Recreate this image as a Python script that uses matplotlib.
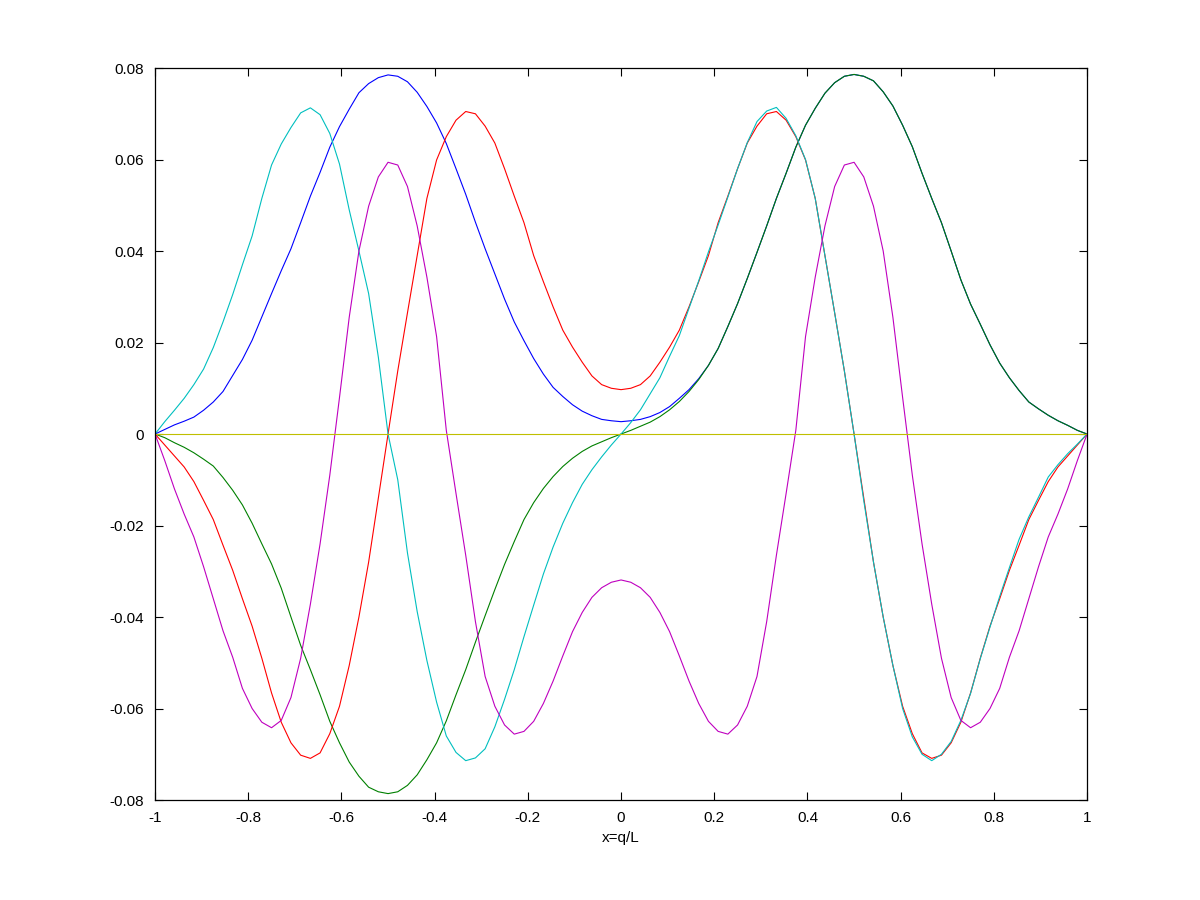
import numpy as np
import matplotlib
matplotlib.use('Agg')
import matplotlib.pyplot as plt
from matplotlib.ticker import FuncFormatter

plt.rcParams['font.family'] = ['Liberation Sans', 'DejaVu Sans']
plt.rcParams['axes.unicode_minus'] = False

# sample grid, step 1/48 on [-1, 0]
x_left = np.linspace(-1, 0, 49)

# values, left half (x = -1 .. 0)
blue_left = [0, 0.0010, 0.0020, 0.0028, 0.0037, 0.0052, 0.0070, 0.0093, 0.0128,
             0.0163, 0.0205, 0.0256, 0.0307, 0.0357, 0.0405, 0.0462, 0.0520,
             0.0572, 0.0627, 0.0672, 0.0710, 0.0746, 0.0766, 0.0779, 0.0785,
             0.0782, 0.0770, 0.0747, 0.0716, 0.0680, 0.0635, 0.0580, 0.0524,
             0.0463, 0.0405, 0.0350, 0.0295, 0.0245, 0.0204, 0.0165, 0.0131,
             0.0102, 0.0082, 0.0064, 0.0050, 0.0040, 0.0032, 0.0029, 0.0027]
# blue right half (x = 1/48 .. 1): near zero at first, then lies on green
blue_right = [0.0029, 0.0032, 0.0038, 0.0047, 0.0060, 0.0078, 0.0097, 0.0121,
              0.0150, 0.0187, 0.0235, 0.0285, 0.0340, 0.0397, 0.0455, 0.0515,
              0.0570, 0.0627, 0.0675, 0.0712, 0.0745, 0.0768, 0.0782, 0.0786,
              0.0782, 0.0772, 0.0748, 0.0717, 0.0675, 0.0628, 0.0570, 0.0515,
              0.0462, 0.0400, 0.0337, 0.0284, 0.0240, 0.0195, 0.0155, 0.0123,
              0.0095, 0.0070, 0.0055, 0.0041, 0.0029, 0.0019, 0.0008, 0]

green_left = [0, -0.0008, -0.0019, -0.0029, -0.0041, -0.0055, -0.0070, -0.0095,
              -0.0123, -0.0155, -0.0195, -0.0240, -0.0284, -0.0337, -0.0400,
              -0.0462, -0.0515, -0.0570, -0.0628, -0.0675, -0.0717, -0.0748,
              -0.0772, -0.0782, -0.0786, -0.0782, -0.0768, -0.0745, -0.0712,
              -0.0675, -0.0627, -0.0570, -0.0515, -0.0455, -0.0397, -0.0340,
              -0.0285, -0.0235, -0.0187, -0.0150, -0.0119, -0.0093, -0.0071,
              -0.0053, -0.0038, -0.0026, -0.0017, -0.0008, 0]

red_left = [0, -0.0024, -0.0048, -0.0072, -0.0104, -0.0145, -0.0187, -0.0243,
            -0.0298, -0.0360, -0.0420, -0.0490, -0.0566, -0.0630, -0.0675,
            -0.0702, -0.0709, -0.0697, -0.0655, -0.0595, -0.0506, -0.0400,
            -0.0280, -0.0140, 0, 0.0138, 0.0265, 0.0390, 0.0515, 0.0599, 0.0650,
            0.0686, 0.0705, 0.0700, 0.0673, 0.0636, 0.0580, 0.0520, 0.0462,
            0.0390, 0.0333, 0.0278, 0.0227, 0.0190, 0.0157, 0.0127, 0.0108,
            0.0100, 0.0097]

cyan_left = [0, 0.0027, 0.0052, 0.0078, 0.0108, 0.0142, 0.0189, 0.0245, 0.0305,
             0.0370, 0.0433, 0.0515, 0.0588, 0.0634, 0.0670, 0.0702, 0.0713,
             0.0698, 0.0657, 0.0590, 0.0490, 0.0400, 0.0307, 0.0168, 0,
             -0.0100, -0.0260, -0.0388, -0.0495, -0.0586, -0.0660, -0.0696,
             -0.0714, -0.0708, -0.0688, -0.0640, -0.0580, -0.0515, -0.0443,
             -0.0374, -0.0306, -0.0247, -0.0195, -0.0150, -0.0110, -0.0078,
             -0.0050, -0.0024, 0]
# cyan right half (x = 1/48 .. 1): rides on the red curve past its peak
cyan_right = [0.0025, 0.0053, 0.0088, 0.0123, 0.0170, 0.0215, 0.0275, 0.0335,
              0.0398, 0.0457, 0.0518, 0.0580, 0.0637, 0.0683, 0.0706, 0.0714,
              0.0690, 0.0652, 0.0600, 0.0515, 0.0390, 0.0265, 0.0138, 0,
              -0.0146, -0.0280, -0.0400, -0.0506, -0.0600, -0.0662, -0.0700,
              -0.0714, -0.0700, -0.0672, -0.0626, -0.0567, -0.0491, -0.0422,
              -0.0355, -0.0292, -0.0230, -0.0181, -0.0138, -0.0094, -0.0067,
              -0.0043, -0.0022, 0]

magenta_left = [0, -0.0058, -0.0120, -0.0175, -0.0225, -0.0290, -0.0360,
                -0.0430, -0.0488, -0.0556, -0.0600, -0.0630, -0.0642, -0.0626,
                -0.0576, -0.0490, -0.0372, -0.0240, -0.0090, 0.0080, 0.0255,
                0.0400, 0.0498, 0.0562, 0.0594, 0.0588, 0.0541, 0.0455, 0.0343,
                0.0213, 0.0008, -0.0130, -0.0265, -0.0410, -0.0530, -0.0595,
                -0.0636, -0.0656, -0.0650, -0.0628, -0.0589, -0.0540, -0.0485,
                -0.0432, -0.0390, -0.0357, -0.0336, -0.0324, -0.0319]

x_tick_vals = [-1, -0.8, -0.6, -0.4, -0.2, 0, 0.2, 0.4, 0.6, 0.8, 1]
y_tick_vals = [-0.08, -0.06, -0.04, -0.02, 0, 0.02, 0.04, 0.06, 0.08]

# full curves: even ones mirror, odd ones flip sign
x = np.concatenate([x_left, -x_left[-2::-1]])
blue = np.concatenate([blue_left, blue_right])
green = np.concatenate([green_left, -np.array(green_left)[-2::-1]])
red = np.concatenate([red_left, np.array(red_left)[-2::-1]])
cyan = np.concatenate([cyan_left, cyan_right])
magenta = np.concatenate([magenta_left, np.array(magenta_left)[-2::-1]])
yellow = np.zeros_like(x)

fig = plt.figure(figsize=(12, 9), dpi=100)
ax = fig.add_axes([0.1292, 0.1111, 0.7767, 0.8133])

lw = 0.8
ax.plot(x, blue, color=(0, 0, 1), lw=lw)
ax.plot(x, green, color=(0, 0.5, 0), lw=lw)
ax.plot(x, red, color=(1, 0, 0), lw=lw)
ax.plot(x, cyan, color=(0, 0.75, 0.75), lw=lw)
ax.plot(x, magenta, color=(0.75, 0, 0.75), lw=lw)
ax.plot(x, yellow, color=(0.75, 0.75, 0), lw=lw)

ax.set_xlim(-1, 1)
ax.set_ylim(-0.08, 0.08)
ax.set_xticks(x_tick_vals)
ax.set_yticks(y_tick_vals)
ax.xaxis.set_major_formatter(FuncFormatter(lambda v, _: f'{v:g}'))
ax.yaxis.set_major_formatter(FuncFormatter(lambda v, _: f'{v:g}'))
ax.tick_params(direction='in', top=True, right=True, length=6, width=0.8,
               labelsize=11, pad=8)
for s in ax.spines.values():
    s.set_linewidth(0.9)

ax.set_xlabel('x=q/L', fontsize=11, labelpad=4)

fig.savefig('out.png', dpi=100)
